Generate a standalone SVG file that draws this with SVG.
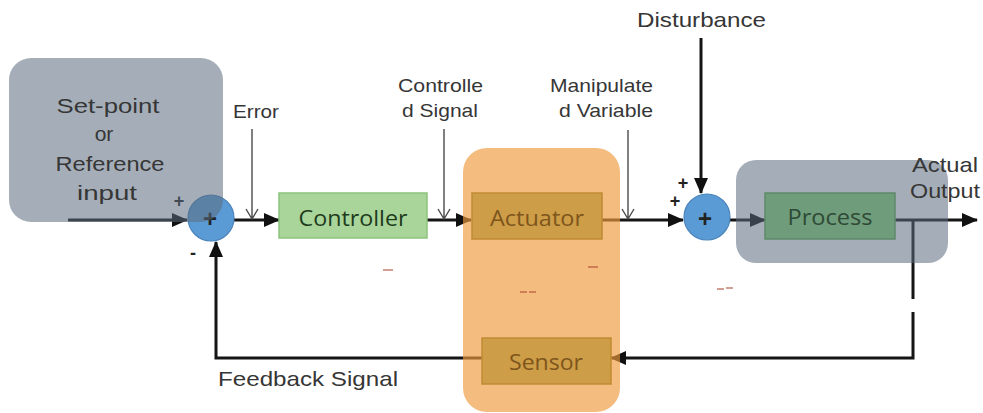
<svg xmlns="http://www.w3.org/2000/svg" width="983" height="413" viewBox="0 0 983 413">
<defs>
<style>
.wire{stroke:#151515;stroke-width:3;fill:none}
.sig{stroke:#4a4a4a;stroke-width:1.4;fill:none}
.lbl{font-family:"Liberation Sans",Arial,sans-serif;fill:#363636;font-size:19px}
.big{font-size:21px}
.bt{font-family:"Open Sans","Liberation Sans",sans-serif;font-size:22px;text-anchor:middle}
.sum{fill:#5b9bd5;stroke:#4a84bb;stroke-width:1.2}
.pm{font-family:"Liberation Sans",Arial,sans-serif;font-size:18px;font-weight:bold;fill:#222;text-anchor:middle}
.ovg{fill:#5b6c7e;opacity:0.55}
.art{stroke:#a8402a;stroke-width:1.2}
</style>
<marker id="ah" markerUnits="userSpaceOnUse" markerWidth="16" markerHeight="16" refX="15" refY="8" orient="auto" viewBox="0 0 16 16"><path d="M0,1 L16,8 L0,15 z" fill="#111"/></marker>
</defs>
<rect width="983" height="413" fill="#ffffff"/>

<g id="connectors">
<path class="wire" d="M68,220 H187" marker-end="url(#ah)"/>
<path class="wire" d="M234,220 H279" marker-end="url(#ah)"/>
<path class="wire" d="M427,220 H471" marker-end="url(#ah)"/>
<path class="wire" d="M602,220 H683" marker-end="url(#ah)"/>
<path class="wire" d="M701,38 V193" marker-end="url(#ah)"/>
<path class="wire" d="M730,220 H765" marker-end="url(#ah)"/>
<path class="wire" d="M895,220 H977" marker-end="url(#ah)"/>
<path class="wire" d="M913,220 V299"/>
<path class="wire" d="M913,312 V358 H611" marker-end="url(#ah)"/>
<path class="wire" d="M482,358 H216 V242" marker-end="url(#ah)"/>
<path class="sig" d="M252,129 V219 M246,209 L252,219 L258,209"/>
<path class="sig" d="M444,129 V219 M438,209 L444,219 L450,209"/>
<path class="sig" d="M628,130 V219 M622,209 L628,219 L634,209"/>
</g>

<g id="sum1">
<circle class="sum" cx="211" cy="218" r="23"/>
<text class="pm" x="210" y="227" style="font-size:24px">+</text>
<text class="pm" x="179" y="207">+</text>
<text class="pm" x="193" y="259">-</text>
</g>
<g id="sum2">
<circle class="sum" cx="707" cy="217" r="23"/>
<text class="pm" x="705" y="227" style="font-size:24px">+</text>
<text class="pm" x="683" y="189">+</text>
<text class="pm" x="675" y="207">+</text>
</g>

<g id="setpoint">
<rect class="ovg" x="9" y="58" width="214" height="164" rx="22"/>
<text class="lbl big" x="108" y="113" text-anchor="middle" textLength="103" lengthAdjust="spacingAndGlyphs">Set-point</text>
<text class="lbl big" x="104" y="141" text-anchor="middle">or</text>
<text class="lbl big" x="110" y="171" text-anchor="middle" textLength="109" lengthAdjust="spacingAndGlyphs">Reference</text>
<text class="lbl big" x="107" y="200" text-anchor="middle" textLength="60" lengthAdjust="spacingAndGlyphs">input</text>
</g>

<g id="plant-group">
<rect class="ovg" x="736" y="160" width="212" height="103" rx="20"/>
</g>

<g id="hardware-group">
<rect x="463" y="148" width="157" height="264" rx="24" fill="#ee9a3c" opacity="0.66"/>
</g>

<g id="controller">
<rect x="279" y="193" width="148" height="45" fill="#a9d59b" stroke="#8cc37e" stroke-width="1.5"/>
<text class="bt" x="353" y="226" fill="#1e3b1c" textLength="109" lengthAdjust="spacingAndGlyphs">Controller</text>
</g>
<g id="actuator">
<rect x="472" y="193" width="130" height="46" fill="#cd9d47" stroke="#c08a35" stroke-width="1.5"/>
<text class="bt" x="537" y="226" fill="#7e551c" textLength="94" lengthAdjust="spacingAndGlyphs">Actuator</text>
</g>
<g id="process">
<rect x="765" y="193" width="130" height="46" fill="#6f9c7a" stroke="#5d8a68" stroke-width="1.5"/>
<text class="bt" x="830" y="225" fill="#2e4a36" textLength="85" lengthAdjust="spacingAndGlyphs">Process</text>
</g>
<g id="sensor">
<rect x="482" y="338" width="129" height="46" fill="#cd9d47" stroke="#c08a35" stroke-width="1.5"/>
<text class="bt" x="546" y="370" fill="#7e551c" textLength="74" lengthAdjust="spacingAndGlyphs">Sensor</text>
</g>

<g id="labels">
<text class="lbl" x="233" y="118" textLength="46" lengthAdjust="spacingAndGlyphs">Error</text>
<text class="lbl" x="398" y="92" textLength="85" lengthAdjust="spacingAndGlyphs">Controlle</text>
<text class="lbl" x="402" y="117" textLength="76" lengthAdjust="spacingAndGlyphs">d Signal</text>
<text class="lbl" x="550" y="92" textLength="103" lengthAdjust="spacingAndGlyphs">Manipulate</text>
<text class="lbl" x="559" y="117" textLength="94" lengthAdjust="spacingAndGlyphs">d Variable</text>
<text class="lbl big" x="637" y="27" textLength="129" lengthAdjust="spacingAndGlyphs">Disturbance</text>
<text class="lbl big" x="912" y="172" textLength="66" lengthAdjust="spacingAndGlyphs">Actual</text>
<text class="lbl big" x="910" y="198" textLength="70" lengthAdjust="spacingAndGlyphs">Output</text>
<text class="lbl big" x="218" y="386" textLength="180" lengthAdjust="spacingAndGlyphs">Feedback Signal</text>
</g>

<g id="marks">
<path class="art" d="M383,270 H393 M588,267 H598 M520,292 H527 M529,292 H536 M717,289 H724 M726,288 H733"/>
</g>
</svg>
